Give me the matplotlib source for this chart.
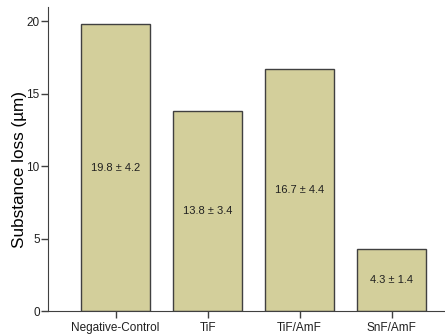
import matplotlib.pyplot as plt
import numpy as np

plt.rcParams['font.family'] = ['Liberation Sans', 'DejaVu Sans']

groups = ["Negative-Control", "TiF", "TiF/AmF", "SnF/AmF"]
mean_loss = [19.8, 13.8, 16.7, 4.3]
sd_loss = [4.2, 3.4, 4.4, 1.4]

x = np.arange(len(groups))

fig = plt.figure(figsize=(4.45, 3.36), dpi=100)
ax = fig.add_axes([0.108, 0.0744, 0.892, 0.905])

ax.bar(x, mean_loss, 0.75, color='#d3cf9b', edgecolor='#404040', linewidth=1.0)
for xi, m, s in zip(x, mean_loss, sd_loss):
    ax.text(xi, m / 2, f"{m:.1f} \u00b1 {s:.1f}", ha='center', va='center',
            fontsize=8, color='#202020')

ax.set_xlim(-0.734, 3.58)
ax.set_ylim(0, 21)
ax.set_yticks([0, 5, 10, 15, 20])
ax.set_xticks(x, groups)
ax.tick_params(axis='both', labelsize=8.5, length=5, color='#404040', width=1,
               labelcolor='#202020')
ax.tick_params(axis='x', pad=3)
ax.tick_params(axis='y', pad=1)
ax.spines[['top', 'right']].set_visible(False)
ax.spines[['left', 'bottom']].set_color('#404040')
ax.set_ylabel("Substance loss (\u00b5m)", fontsize=12.3)
ax.yaxis.set_label_coords(-0.053, 0.465)

fig.savefig("out.png", dpi=100)
